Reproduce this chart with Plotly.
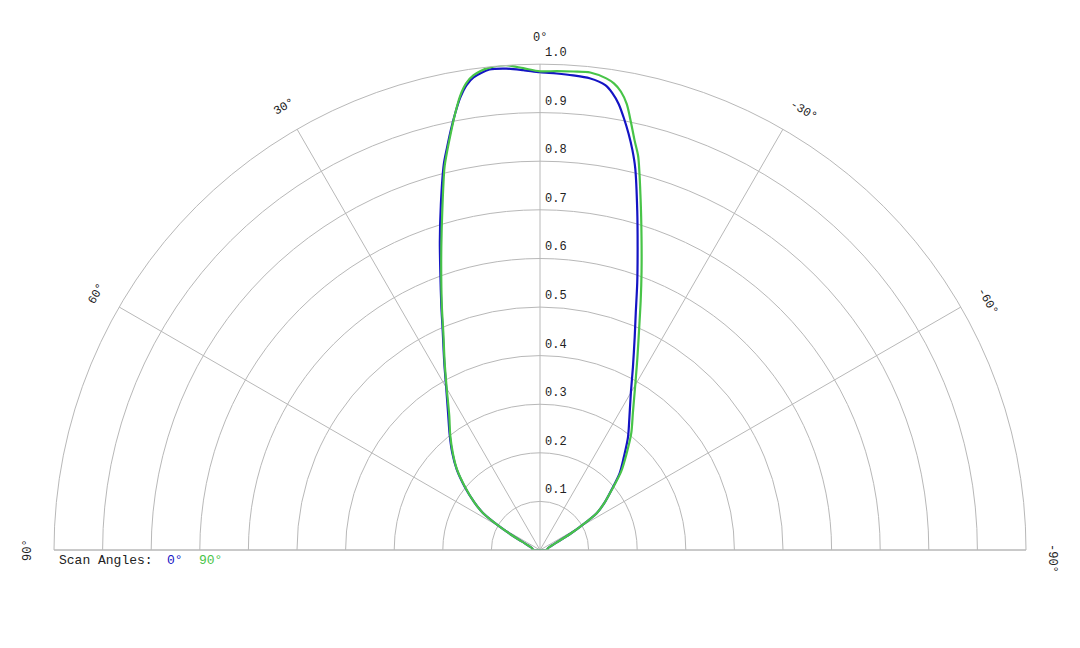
import plotly.graph_objects as go
import math

# Datos del patrón (ángulo en grados, amplitud normalizada)
theta = [-90, -85, -80, -75, -70, -66, -64, -62, -60, -57, -54, -50, -46, -42, -38,
         -34, -30, -27, -24, -22, -20, -18, -16, -14, -13, -12, -11, -10, -9, -8,
         -6, -4, -2, 0, 2, 4, 6, 8, 9, 10, 11, 12, 13, 14, 16, 18, 20, 22, 24,
         27, 30, 34, 38, 42, 46, 50, 54, 57, 60, 62, 64, 66, 70, 75, 80, 85, 90]

r_scan_0 = [0.014, 0.015, 0.016, 0.018, 0.024, 0.035, 0.048, 0.070, 0.095, 0.139,
            0.163, 0.192, 0.228, 0.258, 0.294, 0.329, 0.374, 0.421, 0.479, 0.526,
            0.585, 0.650, 0.726, 0.810, 0.845, 0.876, 0.905, 0.932, 0.952, 0.966,
            0.976, 0.979, 0.981, 0.983, 0.988, 0.993, 0.994, 0.982, 0.968, 0.945,
            0.915, 0.883, 0.850, 0.818, 0.740, 0.667, 0.599, 0.542, 0.492, 0.434,
            0.386, 0.338, 0.302, 0.270, 0.238, 0.202, 0.167, 0.140, 0.095, 0.068,
            0.048, 0.035, 0.024, 0.018, 0.016, 0.015, 0.014]

r_scan_90 = [0.014, 0.015, 0.016, 0.018, 0.024, 0.035, 0.048, 0.070, 0.095, 0.139,
             0.163, 0.193, 0.232, 0.266, 0.305, 0.342, 0.392, 0.441, 0.502, 0.553,
             0.611, 0.676, 0.751, 0.835, 0.865, 0.900, 0.935, 0.958, 0.972, 0.980,
             0.988, 0.987, 0.986, 0.985, 0.992, 1.000, 0.998, 0.986, 0.972, 0.948,
             0.915, 0.880, 0.846, 0.812, 0.729, 0.657, 0.594, 0.539, 0.489, 0.432,
             0.384, 0.334, 0.300, 0.268, 0.237, 0.201, 0.167, 0.140, 0.095, 0.068,
             0.048, 0.035, 0.024, 0.018, 0.016, 0.015, 0.014]

angle_ticks = [90, 60, 30, 0, -30, -60, -90]
radial_ticks = [0.1, 0.2, 0.3, 0.4, 0.5, 0.6, 0.7, 0.8, 0.9, 1.0]

BLUE = '#1414c4'
GREEN = '#48c448'
GRID = '#b8b8b8'
FONT = 'Liberation Mono'

W, H = 1080, 648
OFF = 8  # margen del body de la página
CX, CY, R = 540 - OFF, 550 - OFF, 486  # centro y radio en px (para etiquetas)

fig = go.Figure()

# curva cerrada: se vuelve al primer punto
fig.add_trace(go.Scatterpolar(
    r=r_scan_0 + r_scan_0[:1], theta=theta + theta[:1], mode='lines', name='0°',
    line=dict(color=BLUE, width=2.2, shape='spline', smoothing=0.8)
))
fig.add_trace(go.Scatterpolar(
    r=r_scan_90 + r_scan_90[:1], theta=theta + theta[:1], mode='lines', name='90°',
    line=dict(color=GREEN, width=2.2, shape='spline', smoothing=0.8)
))

# etiquetas angulares giradas
annotations = []
for t in angle_ticks:
    ta = t - 1.0 if t < 0 else t
    rad = math.radians(ta)
    px = CX - 512 * math.sin(rad)
    py = CY - 512 * math.cos(rad)
    annotations.append(dict(
        x=px / W, y=1 - py / H, xref='paper', yref='paper',
        text=f'{t}°', showarrow=False, textangle=-t,
        xanchor='center', yanchor='middle',
        font=dict(family=FONT, size=12, color='#222')
    ))

# etiquetas radiales sobre el eje de 0°
for v in radial_ticks:
    py = CY - v * R - 2
    annotations.append(dict(
        x=(CX + 3) / W, y=1 - py / H, xref='paper', yref='paper',
        text=f'{v:.1f}', showarrow=False,
        xanchor='left', yanchor='bottom',
        font=dict(family=FONT, size=12, color='#222')
    ))

# leyenda
for txt, x0, col in [('Scan Angles:', 57, '#222'), ('0°', 165, BLUE), ('90°', 197, GREEN)]:
    annotations.append(dict(
        x=(x0 - OFF) / W, y=1 - (560 - OFF) / H, xref='paper', yref='paper',
        text=txt, showarrow=False, xanchor='left', yanchor='middle',
        font=dict(family=FONT, size=13, color=col)
    ))

fig.update_layout(
    width=W, height=H,
    margin=dict(l=0, r=0, t=0, b=0),
    paper_bgcolor='white',
    showlegend=False,
    polar=dict(
        domain=dict(x=[(CX - R) / W, (CX + R) / W],
                    y=[(H - CY) / H, (H - CY + R) / H]),
        sector=[0, 180],
        bgcolor='white',
        angularaxis=dict(
            rotation=90, direction='counterclockwise',
            tickmode='array', tickvals=angle_ticks,
            showticklabels=False, ticks='',
            showgrid=True, gridcolor=GRID, gridwidth=1,
            showline=True, linecolor=GRID, linewidth=1
        ),
        radialaxis=dict(
            range=[0, 1], tickmode='array', tickvals=radial_ticks,
            showticklabels=False, ticks='', showline=False,
            showgrid=True, gridcolor=GRID, gridwidth=1
        )
    ),
    annotations=annotations
)

fig.write_html('out.html')
